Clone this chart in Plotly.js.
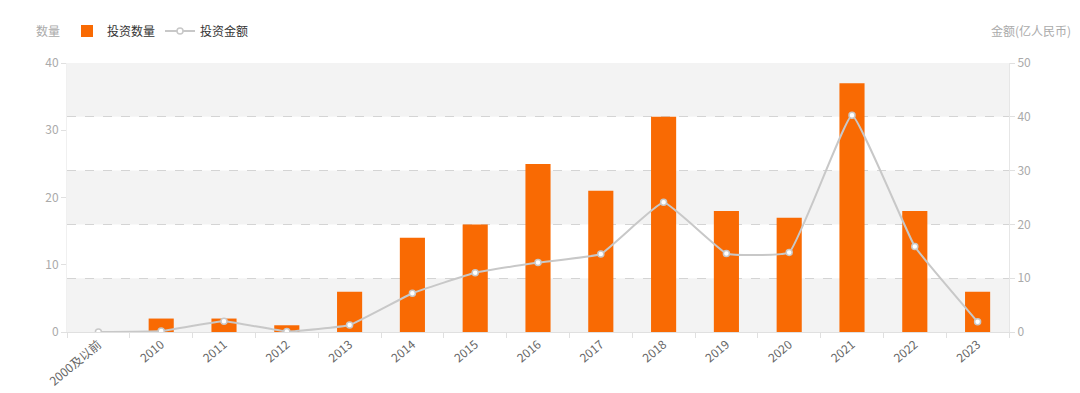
<!DOCTYPE html>
<html>
<head>
<meta charset="utf-8">
<script src="https://cdn.plot.ly/plotly-3.0.1.min.js"></script>
<style>html,body{margin:0;padding:0;background:#fff;}#chart{width:1080px;height:393px;}</style>
</head>
<body>
<div id="chart"></div>
<script>
const categories = ['2000及以前','2010','2011','2012','2013','2014','2015','2016','2017','2018','2019','2020','2021','2022','2023'];
const countValues = [0, 2, 2, 1, 6, 14, 16, 25, 21, 32, 18, 17, 37, 18, 6];
const amountValues = [0, 0.2, 2.0, 0.1, 1.3, 7.2, 11.0, 12.9, 14.5, 24.1, 14.6, 14.8, 40.3, 15.9, 1.9];
const leftTicks = [0, 10, 20, 30, 40];
const rightTicks = [0, 10, 20, 30, 40, 50];

const FONT = '"Microsoft YaHei","Noto Sans CJK SC","Noto Sans",sans-serif';

const traces = [
  {
    type: 'bar', name: '投资数量', x: categories, y: countValues,
    marker: {color: '#f96a03'}, width: 0.4, yaxis: 'y', hoverinfo: 'x+y'
  },
  {
    type: 'scatter', mode: 'lines+markers', name: '投资金额', x: categories, y: amountValues,
    yaxis: 'y2',
    line: {color: '#c8c8c8', width: 2, shape: 'spline', smoothing: 0.3},
    marker: {size: 6, color: '#ffffff', line: {color: '#c8c8c8', width: 1.5}}
  }
];

const shapes = [];
for (let i = 0; i < rightTicks.length - 1; i++) {
  if (i % 2 === 0) {
    shapes.push({type: 'rect', xref: 'paper', yref: 'y2', x0: 0, x1: 1,
      y0: rightTicks[i], y1: rightTicks[i + 1], fillcolor: '#f3f3f3', line: {width: 0}, layer: 'below'});
  }
}

const TOPY = 1.119;

const layout = {
  width: 1080, height: 393,
  margin: {l: 67, r: 71, t: 63, b: 61, autoexpand: false},
  paper_bgcolor: '#ffffff', plot_bgcolor: 'rgba(0,0,0,0)',
  font: {family: FONT, size: 12, color: '#999'},
  showlegend: true,
  legend: {orientation: 'h', x: 0.0, y: TOPY, xanchor: 'left', yanchor: 'middle',
    font: {family: FONT, size: 12, color: '#333'}, itemwidth: 30, tracegroupgap: 0},
  bargap: 0.6,
  xaxis: {
    type: 'category', range: [-0.5, categories.length - 0.5],
    tickangle: -40, tickson: 'boundaries', ticks: 'outside', ticklen: 5,
    tickcolor: '#e0e0e0', showline: true, linecolor: '#e0e0e0', linewidth: 1, automargin: false,
    showgrid: false, tickfont: {family: FONT, size: 12, color: '#666'}, fixedrange: true
  },
  yaxis: {
    range: [0, 40], tickvals: leftTicks, ticks: 'outside', ticklen: 5, tickcolor: '#e0e0e0',
    showgrid: false, zeroline: false, showline: true, linecolor: '#f0f0f0', automargin: false,
    tickfont: {family: FONT, size: 12, color: '#aaa'}, fixedrange: true
  },
  yaxis2: {
    range: [0, 50], tickvals: rightTicks, overlaying: 'y', side: 'right',
    ticks: 'outside', ticklen: 5, tickcolor: '#e0e0e0', automargin: false,
    showgrid: true, gridcolor: '#d4d4d4', griddash: 'dash', gridwidth: 1,
    zeroline: false, showline: true, linecolor: '#e6e6e6',
    tickfont: {family: FONT, size: 12, color: '#aaa'}, fixedrange: true
  },
  shapes: shapes,
  annotations: [
    {xref: 'paper', yref: 'paper', x: -0.02, y: TOPY, xanchor: 'center', yanchor: 'middle',
      text: '数量', showarrow: false, font: {family: FONT, size: 12, color: '#aaa'}},
    {xref: 'paper', yref: 'paper', x: 1.0235, y: TOPY, xanchor: 'center', yanchor: 'middle',
      text: '金额(亿人民币)', showarrow: false, font: {family: FONT, size: 12, color: '#aaa'}}
  ]
};

Plotly.newPlot('chart', traces, layout, {displayModeBar: false, responsive: false});
</script>
</body>
</html>
